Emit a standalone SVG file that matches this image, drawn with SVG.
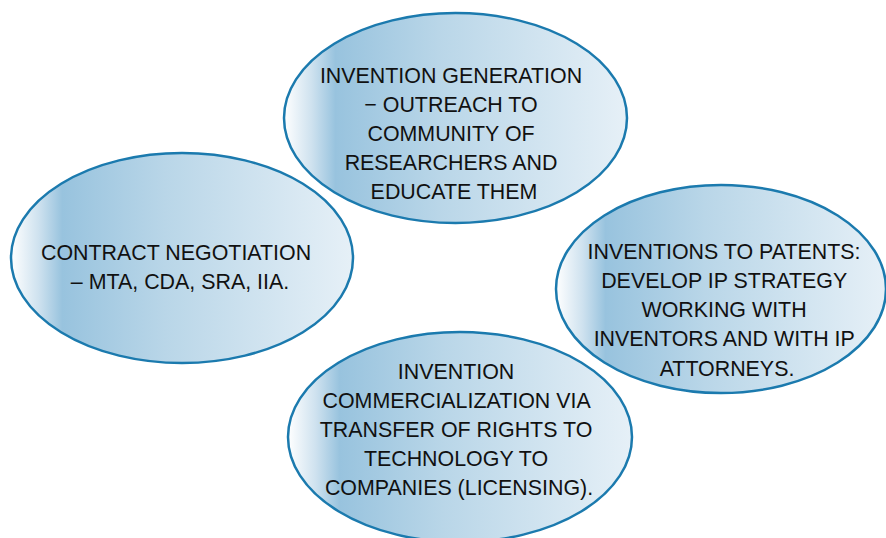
<svg xmlns="http://www.w3.org/2000/svg" width="886" height="538" viewBox="0 0 886 538">
  <defs>
    <linearGradient id="bubbleFill" x1="0" y1="0" x2="1" y2="0">
      <stop offset="0" stop-color="#ffffff"/>
      <stop offset="0.08" stop-color="#cfe2ef"/>
      <stop offset="0.15" stop-color="#98c3de"/>
      <stop offset="0.45" stop-color="#b9d6e8"/>
      <stop offset="1" stop-color="#e6f0f7"/>
    </linearGradient>
    <style>
      .bubble { fill: url(#bubbleFill); stroke: #1b7aae; stroke-width: 2.5; }
      .label { font-family: "Liberation Sans", Arial, sans-serif; font-size: 21.4px; fill: #111111; text-anchor: middle; }
    </style>
  </defs>
  <rect width="886" height="538" fill="#ffffff"/>

  <g id="invention-generation">
    <ellipse class="bubble" cx="455.5" cy="118" rx="171.5" ry="105"/>
    <text class="label" x="454">
      <tspan x="454" y="83">INVENTION GENERATION</tspan>
      <tspan x="454" y="112">− OUTREACH TO</tspan>
      <tspan x="454" y="141">COMMUNITY OF</tspan>
      <tspan x="454" y="170">RESEARCHERS AND</tspan>
      <tspan x="454" y="199">EDUCATE THEM</tspan>
    </text>
  </g>

  <g id="contract-negotiation">
    <ellipse class="bubble" cx="182" cy="258" rx="171" ry="105"/>
    <text class="label" x="179">
      <tspan x="179" y="260">CONTRACT NEGOTIATION</tspan>
      <tspan x="180" y="289">– MTA, CDA, SRA, IIA.</tspan>
    </text>
  </g>

  <g id="inventions-to-patents">
    <ellipse class="bubble" cx="721" cy="289" rx="165" ry="104"/>
    <text class="label" x="727">
      <tspan x="727" y="259">INVENTIONS TO PATENTS:</tspan>
      <tspan x="727" y="288">DEVELOP IP STRATEGY</tspan>
      <tspan x="727" y="317">WORKING WITH</tspan>
      <tspan x="727" y="346">INVENTORS AND WITH IP</tspan>
      <tspan x="727" y="376">ATTORNEYS.</tspan>
    </text>
  </g>

  <g id="invention-commercialization">
    <ellipse class="bubble" cx="460" cy="437" rx="172" ry="105"/>
    <text class="label" x="459">
      <tspan x="459" y="379">INVENTION</tspan>
      <tspan x="459" y="408">COMMERCIALIZATION VIA</tspan>
      <tspan x="459" y="437">TRANSFER OF RIGHTS TO</tspan>
      <tspan x="459" y="466">TECHNOLOGY TO</tspan>
      <tspan x="459" y="495">COMPANIES (LICENSING).</tspan>
    </text>
  </g>

  <g id="connectors"/>
</svg>
